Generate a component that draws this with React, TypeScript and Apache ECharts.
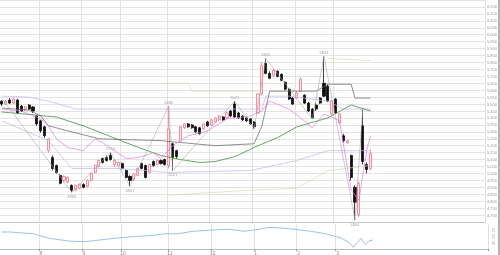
import React, { useEffect, useRef } from "react";
import * as echarts from "echarts";

const N = 125;
const monthTicks: [number, string][] = [
  [10, "8"], [21, "9"], [31, "10"], [43, "11"], [54, "12"], [65, "1"], [76, "2"], [86, "3"],
];

// [open, close, low, high]
const candles: number[][] = [
  [5521, 5500, 5486, 5529], [5500, 5521, 5493, 5529], [5529, 5507, 5500, 5543], [5507, 5536, 5500, 5543],
  [5529, 5436, 5429, 5536], [5486, 5450, 5443, 5493], [5457, 5479, 5450, 5486], [5493, 5464, 5457, 5500],
  [5479, 5450, 5436, 5486], [5414, 5357, 5343, 5421], [5379, 5307, 5293, 5386], [5336, 5271, 5257, 5343],
  [5164, 5250, 5150, 5257], [5114, 5036, 5021, 5129], [5057, 5007, 5000, 5064], [4986, 4929, 4921, 4993],
  [4950, 4979, 4936, 4986], [4936, 4971, 4929, 4979], [4914, 4879, 4864, 4921], [4879, 4914, 4871, 4921],
  [4893, 4921, 4886, 4929], [4921, 4900, 4893, 4929], [4907, 4950, 4900, 4957], [4950, 5000, 4943, 5007],
  [5007, 5057, 5000, 5064], [5050, 5093, 5043, 5100], [5107, 5079, 5071, 5114], [5114, 5093, 5086, 5129],
  [5129, 5100, 5093, 5150], [5064, 5093, 5050, 5100], [5057, 5079, 5050, 5086], [5071, 5036, 5029, 5079],
  [5021, 4971, 4964, 5029], [4979, 4950, 4907, 4986], [4957, 4993, 4943, 5000], [4986, 5036, 4979, 5043],
  [5071, 5036, 5029, 5079], [5057, 4971, 4964, 5064], [5007, 5064, 5000, 5071], [5086, 5057, 5050, 5093],
  [5064, 5093, 5057, 5100], [5093, 5071, 5064, 5100], [5100, 5064, 5057, 5107], [5057, 5321, 5036, 5486],
  [5214, 5114, 5021, 5221], [5164, 5121, 5107, 5171], [5236, 5336, 5229, 5343], [5329, 5357, 5321, 5364],
  [5357, 5336, 5329, 5364], [5350, 5329, 5321, 5357], [5336, 5300, 5293, 5343], [5329, 5286, 5279, 5336],
  [5321, 5357, 5314, 5364], [5371, 5343, 5336, 5379], [5350, 5386, 5343, 5393], [5371, 5400, 5364, 5407],
  [5386, 5414, 5379, 5421], [5407, 5386, 5379, 5414], [5400, 5436, 5393, 5443], [5450, 5414, 5407, 5457],
  [5500, 5407, 5400, 5521], [5436, 5400, 5393, 5443], [5414, 5386, 5379, 5421], [5400, 5379, 5371, 5407],
  [5393, 5357, 5350, 5400], [5371, 5336, 5321, 5379], [5436, 5571, 5429, 5579], [5571, 5779, 5564, 5800],
  [5793, 5721, 5714, 5829], [5721, 5686, 5679, 5736], [5707, 5743, 5700, 5750], [5736, 5700, 5693, 5743],
  [5714, 5671, 5664, 5721], [5657, 5607, 5600, 5664], [5607, 5536, 5529, 5614], [5543, 5500, 5493, 5550],
  [5543, 5579, 5536, 5586], [5593, 5679, 5586, 5693], [5564, 5507, 5500, 5571], [5507, 5450, 5443, 5514],
  [5464, 5400, 5393, 5471], [5493, 5464, 5450, 5507], [5543, 5507, 5500, 5550], [5650, 5557, 5550, 5843],
  [5629, 5521, 5514, 5643], [5429, 5521, 5421, 5529], [5536, 5436, 5429, 5543], [5364, 5429, 5357, 5436],
  [5271, 5236, 5221, 5286], [5221, 5236, 5214, 5243], [5129, 4971, 4950, 5136], [4900, 4793, 4664, 4914],
  [4700, 4929, 4686, 4943], [5343, 5086, 5064, 5471], [5064, 5029, 5000, 5079], [5036, 5143, 5021, 5171],
];

const zigzag: number[][] = [
  [0, 5543], [18, 4864], [28, 5150], [33, 4907], [43, 5486], [44, 5021], [60, 5521], [65, 5321],
  [68, 5829], [80, 5393], [83, 5843], [91, 4664], [93, 5471],
];
const peakLabels: number[][] = [[28, 5150], [43, 5486], [60, 5521], [68, 5829], [83, 5843]];
const troughLabels: number[][] = [[18, 4864], [33, 4907], [44, 5021], [91, 4664]];

const greenLine: number[][] = [
  [0, 5443], [14, 5407], [21, 5343], [34, 5200], [41, 5129], [46, 5100], [51, 5079], [55, 5086],
  [60, 5121], [66, 5200], [71, 5257], [76, 5336], [84, 5400], [90, 5493], [95, 5450],
];
const darkLine: number[][] = [
  [0, 5471], [7, 5457], [10, 5414], [12, 5343], [17, 5307], [25, 5250], [41, 5236], [55, 5200],
  [65, 5214], [67, 5343], [69, 5593], [81, 5593], [84, 5643], [90, 5643], [91, 5543], [95, 5543],
];
const magentaLine: number[][] = [
  [0, 5464], [5, 5450], [10, 5393], [12, 5343], [14, 5250], [17, 5186], [21, 5164], [24, 5250],
  [26, 5221], [29, 5164], [32, 5107], [35, 5114], [37, 5129], [39, 5150], [41, 5107], [44, 5200],
  [48, 5271], [53, 5307], [58, 5393], [64, 5414], [67, 5450], [69, 5521], [74, 5464], [77, 5400],
  [80, 5329], [83, 5429], [87, 5379], [90, 4879], [92, 4807], [94, 5164], [95, 5271],
];
const lavenderUpper: number[][] = [
  [0, 5557], [7, 5550], [12, 5521], [19, 5464], [43, 5464], [67, 5464], [68, 5557], [74, 5557],
  [84, 5521], [88, 5464], [95, 5464],
];
const lavenderLower: number[][] = [
  [0, 5379], [12, 5236], [18, 5036], [30, 5036], [43, 5007], [64, 5021], [76, 5093], [84, 5164], [95, 5164],
];
const oliveUpper: number[][] = [[41, 5650], [48, 5650], [49, 5593], [66, 5593]];
const oliveTop: number[][] = [[84, 5829], [95, 5814]];
const oliveLower: number[][] = [[43, 4843], [64, 4879], [76, 4893], [84, 5021], [95, 5057]];

const oscillator: number[][] = [
  [0, 68], [2, 68], [8, 61], [12, 43], [17, 32], [21, 29], [25, 36], [29, 43], [34, 50], [38, 54],
  [42, 61], [45, 61], [49, 71], [53, 75], [58, 79], [62, 71], [66, 79], [68, 86], [70, 86], [75, 79],
  [79, 71], [83, 61], [87, 43], [89, 25], [90, 7], [91, 25], [92, 43], [93, 18], [94, 32], [95, 36],
];

const categories = Array.from({ length: N }, (_, i) => String(i));
const monthMap = new Map(monthTicks.map(([i, l]) => [i, l]));

export default function App() {
  const ref = useRef<HTMLDivElement>(null);
  useEffect(() => {
    if (!ref.current) return;
    const chart = echarts.init(ref.current, undefined, { renderer: "svg" });
    const isMonth = (idx: number) => monthMap.has(idx);
    const lineS = (data: number[][], color: string, width = 0.8, xi = 0) => ({
      type: "line",
      data,
      xAxisIndex: xi,
      yAxisIndex: xi,
      symbol: "none",
      lineStyle: { color, width },
      silent: true,
    });
    const labelS = (data: number[][], pos: string) => ({
      type: "scatter",
      data,
      symbolSize: 0,
      silent: true,
      label: {
        show: true,
        position: pos,
        distance: 2,
        fontSize: 4,
        color: "#888",
        formatter: (p: any) => String(p.value[1]),
      },
    });
    chart.setOption({
      animation: false,
      grid: [
        { left: 0, right: 12, top: -2, height: 224 },
        { left: 0, right: 12, top: 224, height: 26 },
      ],
      xAxis: [
        {
          type: "category",
          data: categories,
          gridIndex: 0,
          axisLine: { show: true, lineStyle: { color: "#c8c8c8", width: 1 } },
          axisTick: { show: false },
          axisLabel: { show: false },
          splitLine: { show: true, interval: (i: number) => isMonth(i), lineStyle: { color: "#e2e2e2", width: 1 } },
        },
        {
          type: "category",
          data: categories,
          gridIndex: 1,
          axisLine: { show: true, lineStyle: { color: "#bbb", width: 1 } },
          axisTick: { show: true, interval: (i: number) => isMonth(i), length: 2, lineStyle: { color: "#999" } },
          axisLabel: {
            show: true,
            interval: (i: number) => isMonth(i),
            formatter: (_v: string, i: number) => monthMap.get(i) || "",
            fontSize: 5,
            color: "#888",
            margin: 1,
          },
          splitLine: { show: true, interval: (i: number) => isMonth(i), lineStyle: { color: "#e2e2e2", width: 1 } },
        },
      ],
      yAxis: [
        {
          type: "value",
          gridIndex: 0,
          position: "right",
          min: 4650,
          max: 6250,
          interval: 50,
          axisLine: { show: false },
          axisTick: { show: false },
          axisLabel: { fontSize: 4, color: "#999", margin: 2, showMinLabel: false, showMaxLabel: false },
          splitLine: { show: true, lineStyle: { color: "#e4e4e4", width: 1 } },
        },
        {
          type: "value",
          gridIndex: 1,
          position: "right",
          min: 0,
          max: 100,
          interval: 25,
          axisLine: { show: false },
          axisTick: { show: false },
          axisLabel: { fontSize: 4, color: "#999", margin: 3, rotate: 90, showMinLabel: false, showMaxLabel: false },
          splitLine: { show: false },
        },
      ],
      series: [
        lineS(oliveUpper, "#dcd8ae", 0.7),
        lineS(oliveTop, "#dcd8ae", 0.7),
        lineS(oliveLower, "#dcd8ae", 0.7),
        lineS(lavenderUpper, "#c2b2f2", 0.7),
        lineS(lavenderLower, "#c2b2f2", 0.7),
        lineS(greenLine, "#3f8f3f", 0.8),
        lineS(darkLine, "#60605a", 0.7),
        lineS(magentaLine, "#e27ae2", 0.7),
        lineS(zigzag, "#a8a8a8", 0.6),
        {
          type: "candlestick",
          data: candles,
          barWidth: 2.6,
          itemStyle: {
            color: "#ffe6ec",
            borderColor: "#f07a8a",
            color0: "#111",
            borderColor0: "#111",
            borderWidth: 0.8,
          },
          silent: true,
        },
        labelS(peakLabels, "top"),
        labelS(troughLabels, "bottom"),
        lineS(oscillator, "#8fbde0", 0.9, 1),
      ],
      graphic: [
        { type: "line", shape: { x1: 499, y1: 0, x2: 499, y2: 255 }, style: { stroke: "#666", lineWidth: 1 } },
      ],
    });
    return () => chart.dispose();
  }, []);
  return <div ref={ref} style={{ width: 500, height: 255, position: "fixed", left: 0, top: 0 }} />;
}
